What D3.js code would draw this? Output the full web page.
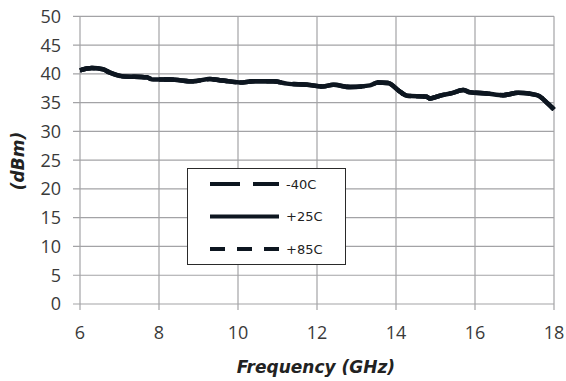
<!DOCTYPE html>
<html>
<head>
<meta charset="utf-8">
<script src="https://cdn.jsdelivr.net/npm/d3@7"></script>
<style>
body { margin: 0; background: #fff; }
svg { display: block; }
</style>
</head>
<body>
<div class="chart"></div>
<script>
// частоти, GHz
var freq = [6.0, 6.3, 6.58, 6.76, 7.06, 7.69, 7.85, 8.28, 8.86, 9.29, 9.54, 10.05, 10.38, 10.89,
    11.24, 11.75, 12.15, 12.41, 12.84, 13.34, 13.54, 13.8, 14.1, 14.28, 14.78, 14.86, 15.11,
    15.44, 15.7, 15.87, 16.3, 16.71, 17.09, 17.57, 17.85, 18.0];
var pm40 = [40.6, 41.0, 40.8, 40.2, 39.6, 39.4, 39.0, 39.0, 38.7, 39.1, 38.9, 38.5, 38.7, 38.7,
    38.3, 38.1, 37.8, 38.1, 37.7, 38.0, 38.5, 38.4, 36.9, 36.2, 36.0, 35.7, 36.2,
    36.7, 37.2, 36.8, 36.6, 36.3, 36.7, 36.3, 34.8, 33.8];
var p25 = [40.6, 41.0, 40.8, 40.2, 39.6, 39.4, 39.0, 39.0, 38.7, 39.1, 38.9, 38.5, 38.7, 38.7,
    38.3, 38.1, 37.8, 38.1, 37.7, 38.0, 38.5, 38.4, 36.9, 36.2, 36.0, 35.7, 36.2,
    36.7, 37.2, 36.8, 36.6, 36.3, 36.7, 36.3, 34.8, 33.8];
var p85 = [40.6, 41.0, 40.8, 40.2, 39.6, 39.4, 39.0, 39.0, 38.7, 39.1, 38.9, 38.5, 38.7, 38.7,
    38.3, 38.1, 37.8, 38.1, 37.7, 38.0, 38.5, 38.4, 36.9, 36.2, 36.0, 35.7, 36.2,
    36.7, 37.2, 36.8, 36.6, 36.3, 36.7, 36.3, 34.8, 33.8];
var seriesNames = ["-40C", "+25C", "+85C"];
var xTicks = [6, 8, 10, 12, 14, 16, 18];
var yTicks = [0, 5, 10, 15, 20, 25, 30, 35, 40, 45, 50];

var W = 566, H = 381;
var plotL = 80, plotR = 554, plotT = 16.3, plotB = 304;

var x = d3.scaleLinear().domain([6, 18]).range([plotL, plotR]);
var y = d3.scaleLinear().domain([0, 50]).range([plotB, plotT]);

var svg = d3.select(".chart").append("svg")
    .attr("width", W)
    .attr("height", H);

var gridColor = "#a3a3a6";
var textColor = "#3a3a3a";

// сітка
svg.append("g").selectAll("line")
    .data(yTicks)
    .enter().append("line")
    .attr("x1", plotL - 7).attr("x2", plotR)
    .attr("y1", function(d){ return y(d); })
    .attr("y2", function(d){ return y(d); })
    .attr("stroke", gridColor).attr("stroke-width", 1.2);

svg.append("g").selectAll("line")
    .data(xTicks)
    .enter().append("line")
    .attr("x1", function(d){ return x(d); })
    .attr("x2", function(d){ return x(d); })
    .attr("y1", plotT).attr("y2", plotB + 6)
    .attr("stroke", gridColor).attr("stroke-width", 1.2);

// підписи осей
svg.append("g").selectAll("text")
    .data(yTicks)
    .enter().append("text")
    .attr("x", plotL - 19)
    .attr("y", function(d){ return y(d); })
    .attr("dy", "0.36em")
    .attr("text-anchor", "end")
    .attr("font-family", "Open Sans, Liberation Sans, sans-serif")
    .attr("font-size", 18)
    .attr("fill", textColor)
    .text(function(d){ return d; });

svg.append("g").selectAll("text")
    .data(xTicks)
    .enter().append("text")
    .attr("x", function(d){ return x(d); })
    .attr("y", plotB + 35)
    .attr("text-anchor", "middle")
    .attr("font-family", "Open Sans, Liberation Sans, sans-serif")
    .attr("font-size", 18)
    .attr("fill", textColor)
    .text(function(d){ return d; });

svg.append("text")
    .attr("x", 316)
    .attr("y", 373)
    .attr("text-anchor", "middle")
    .attr("font-family", "DejaVu Sans, sans-serif")
    .attr("font-weight", "bold")
    .attr("font-style", "italic")
    .attr("font-size", 17)
    .attr("fill", "#222")
    .text("Frequency (GHz)");

svg.append("text")
    .attr("transform", "translate(24,161) rotate(-90)")
    .attr("text-anchor", "middle")
    .attr("font-family", "DejaVu Sans, sans-serif")
    .attr("font-weight", "bold")
    .attr("font-style", "italic")
    .attr("font-size", 17)
    .attr("fill", "#222")
    .text("(dBm)");

// лінії
var line = d3.line()
    .x(function(d){ return x(d[0]); })
    .y(function(d){ return y(d[1]); })
    .curve(d3.curveMonotoneX);

var dashes = ["30,13", null, "15,12"];
var allSeries = [pm40, p25, p85];
var lineColor = "#0d1620";

allSeries.forEach(function(vals, i){
    svg.append("path")
        .datum(freq.map(function(f, j){ return [f, vals[j]]; }))
        .attr("d", line)
        .attr("fill", "none")
        .attr("stroke", lineColor)
        .attr("stroke-width", 4.5)
        .attr("stroke-linejoin", "round")
        .attr("stroke-dasharray", dashes[i]);
});

// легенда
var legend = svg.append("g");
legend.append("rect")
    .attr("x", 187.5).attr("y", 168.5)
    .attr("width", 158).attr("height", 96)
    .attr("fill", "#fff")
    .attr("stroke", "#2a2a2a").attr("stroke-width", 1);

var rows = legend.selectAll("g.row")
    .data(seriesNames)
    .enter().append("g")
    .attr("class", "row")
    .attr("transform", function(d, i){ return "translate(0," + (184 + i * 32.5) + ")"; });

rows.append("line")
    .attr("x1", 210).attr("x2", 279)
    .attr("stroke", lineColor)
    .attr("stroke-width", 4)
    .attr("stroke-dasharray", function(d, i){ return dashes[i]; });

rows.append("text")
    .attr("x", 286)
    .attr("dy", "0.36em")
    .attr("font-family", "DejaVu Sans, sans-serif")
    .attr("font-size", 13)
    .attr("fill", "#222")
    .text(function(d){ return d; });
</script>
</body>
</html>
